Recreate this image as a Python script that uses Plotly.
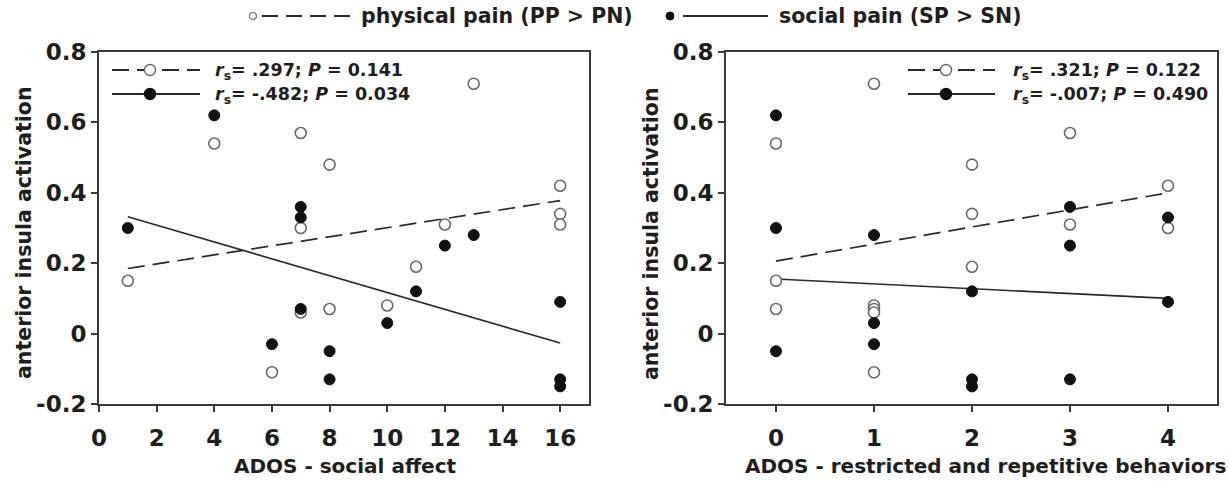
import plotly.graph_objects as go

# ---- data -------------------------------------------------------------
# Panel A: ADOS social affect score vs anterior insula activation
sa_pp_x = [1, 4, 6, 7, 7, 7, 8, 8, 10, 11, 12, 13, 16, 16, 16]
sa_pp_y = [0.15, 0.54, -0.11, 0.57, 0.30, 0.06, 0.48, 0.07, 0.08, 0.19, 0.31, 0.71, 0.42, 0.34, 0.31]
sa_sp_x = [1, 4, 6, 7, 7, 7, 8, 8, 10, 11, 12, 13, 16, 16, 16]
sa_sp_y = [0.30, 0.62, -0.03, 0.36, 0.33, 0.07, -0.05, -0.13, 0.03, 0.12, 0.25, 0.28, 0.09, -0.13, -0.15]
sa_fit_x = [1, 16]
sa_pp_fit = [0.185, 0.378]
sa_sp_fit = [0.332, -0.027]

# Panel B: ADOS restricted & repetitive behaviours vs anterior insula activation
rrb_pp_x = [0, 0, 0, 1, 1, 1, 1, 1, 2, 2, 2, 3, 3, 4, 4]
rrb_pp_y = [0.54, 0.15, 0.07, 0.71, 0.08, 0.07, 0.06, -0.11, 0.48, 0.34, 0.19, 0.57, 0.31, 0.42, 0.30]
rrb_sp_x = [0, 0, 0, 1, 1, 1, 2, 2, 2, 3, 3, 3, 4, 4]
rrb_sp_y = [0.62, 0.30, -0.05, 0.28, 0.03, -0.03, 0.12, -0.13, -0.15, 0.36, 0.25, -0.13, 0.33, 0.09]
rrb_fit_x = [0, 4]
rrb_pp_fit = [0.206, 0.400]
rrb_sp_fit = [0.155, 0.100]

y_ticks = [-0.2, 0, 0.2, 0.4, 0.6, 0.8]
y_tick_labels = ["-0.2", "0", "0.2", "0.4", "0.6", "0.8"]
sa_ticks = [0, 2, 4, 6, 8, 10, 12, 14, 16]
rrb_ticks = [0, 1, 2, 3, 4]

sa_stats = ["<i>r</i><sub>s</sub>= .297; <i>P</i> = 0.141",
            "<i>r</i><sub>s</sub>= -.482; <i>P</i> = 0.034"]
rrb_stats = ["<i>r</i><sub>s</sub>= .321; <i>P</i> = 0.122",
             "<i>r</i><sub>s</sub>= -.007; <i>P</i> = 0.490"]
series_names = ["physical pain (PP > PN)", "social pain (SP > SN)"]
y_title = "anterior insula activation"
x_titles = ["ADOS - social affect", "ADOS - restricted and repetitive behaviors"]

# ---- styling ----------------------------------------------------------
W, H = 1229, 481
FONT = "DejaVu Sans"
TXT = "#1e1e1e"
AX = "#3a3a3a"
LINE = "#2a2a2a"
DASH = "17px,8px"

open_marker = dict(symbol="circle", size=11, color="white", line=dict(color="#6a6a6a", width=1.6))
fill_marker = dict(symbol="circle", size=11, color="#111111", line=dict(color="#111111", width=1))


def px(x):
    return x / W


def py(y):
    return 1 - y / H


fig = go.Figure()

panels = [
    ("x", "y", sa_pp_x, sa_pp_y, sa_sp_x, sa_sp_y, sa_fit_x, sa_pp_fit, sa_sp_fit),
    ("x2", "y2", rrb_pp_x, rrb_pp_y, rrb_sp_x, rrb_sp_y, rrb_fit_x, rrb_pp_fit, rrb_sp_fit),
]
for xa, ya, ppx, ppy, spx, spy, fx, fpp, fsp in panels:
    fig.add_trace(go.Scatter(x=fx, y=fpp, mode="lines", xaxis=xa, yaxis=ya,
                             line=dict(color=LINE, width=1.7, dash=DASH), showlegend=False))
    fig.add_trace(go.Scatter(x=fx, y=fsp, mode="lines", xaxis=xa, yaxis=ya,
                             line=dict(color=LINE, width=1.6), showlegend=False))
    fig.add_trace(go.Scatter(x=ppx, y=ppy, mode="markers", xaxis=xa, yaxis=ya,
                             marker=open_marker, showlegend=False))
    fig.add_trace(go.Scatter(x=spx, y=spy, mode="markers", xaxis=xa, yaxis=ya,
                             marker=fill_marker, showlegend=False))

axis_common = dict(showline=True, mirror=True, linecolor=AX, linewidth=2,
                   ticks="outside", ticklen=6, tickwidth=1.5, tickcolor=AX,
                   showgrid=False, zeroline=False, automargin=False,
                   tickfont=dict(family=FONT, size=23, color=TXT, weight="bold"))

y_dom = [py(404), py(52)]
fig.update_layout(
    width=W, height=H,
    margin=dict(l=0, r=0, t=0, b=0, autoexpand=False),
    paper_bgcolor="white", plot_bgcolor="white",
    showlegend=False,
    xaxis=dict(domain=[px(99), px(589)], range=[0, 17], tickvals=sa_ticks,
               anchor="y", ticklabelstandoff=6, **axis_common),
    yaxis=dict(domain=y_dom, range=[-0.2, 0.8], tickvals=y_ticks, ticktext=y_tick_labels,
               anchor="x", **axis_common),
    xaxis2=dict(domain=[px(726), px(1217)], range=[-0.51, 4.5], tickvals=rrb_ticks,
                anchor="y2", ticklabelstandoff=6, **axis_common),
    yaxis2=dict(domain=y_dom, range=[-0.2, 0.8], tickvals=y_ticks, ticktext=y_tick_labels,
                anchor="x2", **axis_common),
)

shapes = []
annotations = []


def sample(x0, x1, yc, dashed, filled, mx, r):
    """Legend key: a line segment with a circle marker on it (paper coords)."""
    shapes.append(dict(type="line", xref="paper", yref="paper",
                       x0=px(x0), x1=px(x1), y0=py(yc), y1=py(yc),
                       line=dict(color=LINE, width=1.8, dash=DASH if dashed else "solid")))
    shapes.append(dict(type="circle", xref="paper", yref="paper",
                       x0=px(mx - r), x1=px(mx + r), y0=py(yc + r), y1=py(yc - r),
                       fillcolor="#111111" if filled else "white",
                       line=dict(color="#111111" if filled else "#6a6a6a", width=1.4)))


def label(x, yc, text, size, xanchor="left", angle=0):
    annotations.append(dict(xref="paper", yref="paper", x=px(x), y=py(yc),
                            xanchor=xanchor, yanchor="middle", showarrow=False, text=text,
                            textangle=angle,
                            font=dict(family=FONT, size=size, color=TXT, weight="bold")))


# in-panel keys with the correlation statistics
for (x0, x1, mx, tx), stats in [((112, 200, 150, 213), sa_stats), ((908, 995, 946, 1011), rrb_stats)]:
    for i, (yc, s) in enumerate(zip([70, 94], stats)):
        sample(x0, x1, yc, dashed=(i == 0), filled=(i == 1), mx=mx, r=5.5)
        label(tx, yc + 1, s, 17.5)

# shared key above both panels
shapes.append(dict(type="line", xref="paper", yref="paper", x0=px(262), x1=px(352),
                   y0=py(16), y1=py(16), line=dict(color=LINE, width=1.8, dash="16px,8px")))
shapes.append(dict(type="circle", xref="paper", yref="paper", x0=px(249.5), x1=px(256.5),
                   y0=py(19.5), y1=py(12.5), fillcolor="white", line=dict(color="#6a6a6a", width=1.2)))
label(359, 16, series_names[0], 20.5)
shapes.append(dict(type="line", xref="paper", yref="paper", x0=px(683), x1=px(768),
                   y0=py(16), y1=py(16), line=dict(color=LINE, width=1.8)))
shapes.append(dict(type="circle", xref="paper", yref="paper", x0=px(666), x1=px(674),
                   y0=py(20), y1=py(12), fillcolor="#111111", line=dict(color="#111111", width=1)))
label(777, 16, series_names[1], 20.5)

# axis titles
label(345, 466, x_titles[0], 20, xanchor="center")
label(985, 466, x_titles[1], 20, xanchor="center")
label(24, 233, y_title, 20.5, xanchor="center", angle=-90)
label(651, 233, y_title, 20.5, xanchor="center", angle=-90)

fig.update_layout(shapes=shapes, annotations=annotations)

# page without default body margin so the figure sits at the window origin
fig.write_html("out.html",
               post_script="document.body.style.margin='0';document.body.style.overflow='hidden';")
